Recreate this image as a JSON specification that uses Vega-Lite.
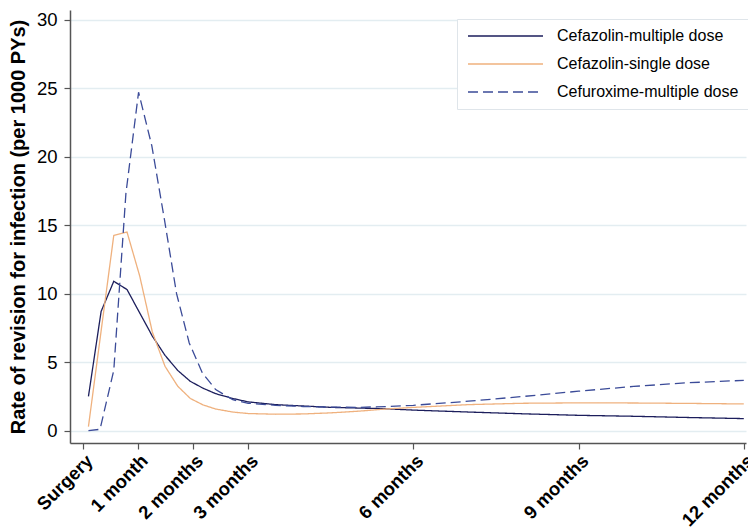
{
  "$schema": "https://vega.github.io/schema/vega-lite/v6.json",
  "width": 676,
  "height": 433,
  "autosize": {"type": "none"},
  "padding": {"left": 70, "top": 10, "right": 2, "bottom": 85},
  "background": "white",
  "config": {
    "view": {"stroke": null},
    "font": "Liberation Sans"
  },
  "data": {
    "values": [
      {"m": 0.10, "v": 2.5, "s": "Cefazolin-multiple dose"},
      {"m": 0.33, "v": 8.7, "s": "Cefazolin-multiple dose"},
      {"m": 0.56, "v": 10.9, "s": "Cefazolin-multiple dose"},
      {"m": 0.80, "v": 10.3, "s": "Cefazolin-multiple dose"},
      {"m": 1.03, "v": 8.6, "s": "Cefazolin-multiple dose"},
      {"m": 1.26, "v": 6.9, "s": "Cefazolin-multiple dose"},
      {"m": 1.49, "v": 5.5, "s": "Cefazolin-multiple dose"},
      {"m": 1.72, "v": 4.4, "s": "Cefazolin-multiple dose"},
      {"m": 1.95, "v": 3.6, "s": "Cefazolin-multiple dose"},
      {"m": 2.18, "v": 3.1, "s": "Cefazolin-multiple dose"},
      {"m": 2.41, "v": 2.7, "s": "Cefazolin-multiple dose"},
      {"m": 2.72, "v": 2.35, "s": "Cefazolin-multiple dose"},
      {"m": 3.0, "v": 2.1, "s": "Cefazolin-multiple dose"},
      {"m": 3.5, "v": 1.9, "s": "Cefazolin-multiple dose"},
      {"m": 4.0, "v": 1.8, "s": "Cefazolin-multiple dose"},
      {"m": 4.5, "v": 1.7, "s": "Cefazolin-multiple dose"},
      {"m": 5.0, "v": 1.65, "s": "Cefazolin-multiple dose"},
      {"m": 5.5, "v": 1.6, "s": "Cefazolin-multiple dose"},
      {"m": 6.0, "v": 1.5, "s": "Cefazolin-multiple dose"},
      {"m": 7.0, "v": 1.36, "s": "Cefazolin-multiple dose"},
      {"m": 8.0, "v": 1.23, "s": "Cefazolin-multiple dose"},
      {"m": 9.0, "v": 1.12, "s": "Cefazolin-multiple dose"},
      {"m": 10.0, "v": 1.05, "s": "Cefazolin-multiple dose"},
      {"m": 11.0, "v": 0.96, "s": "Cefazolin-multiple dose"},
      {"m": 12.0, "v": 0.88, "s": "Cefazolin-multiple dose"},

      {"m": 0.10, "v": 0.3, "s": "Cefazolin-single dose"},
      {"m": 0.56, "v": 14.25, "s": "Cefazolin-single dose"},
      {"m": 0.80, "v": 14.5, "s": "Cefazolin-single dose"},
      {"m": 1.03, "v": 11.3, "s": "Cefazolin-single dose"},
      {"m": 1.26, "v": 7.2, "s": "Cefazolin-single dose"},
      {"m": 1.49, "v": 4.7, "s": "Cefazolin-single dose"},
      {"m": 1.72, "v": 3.25, "s": "Cefazolin-single dose"},
      {"m": 1.95, "v": 2.35, "s": "Cefazolin-single dose"},
      {"m": 2.18, "v": 1.88, "s": "Cefazolin-single dose"},
      {"m": 2.41, "v": 1.58, "s": "Cefazolin-single dose"},
      {"m": 2.72, "v": 1.36, "s": "Cefazolin-single dose"},
      {"m": 3.0, "v": 1.25, "s": "Cefazolin-single dose"},
      {"m": 3.5, "v": 1.2, "s": "Cefazolin-single dose"},
      {"m": 4.0, "v": 1.22, "s": "Cefazolin-single dose"},
      {"m": 4.5, "v": 1.3, "s": "Cefazolin-single dose"},
      {"m": 5.0, "v": 1.42, "s": "Cefazolin-single dose"},
      {"m": 5.5, "v": 1.58, "s": "Cefazolin-single dose"},
      {"m": 6.0, "v": 1.7, "s": "Cefazolin-single dose"},
      {"m": 7.0, "v": 1.9, "s": "Cefazolin-single dose"},
      {"m": 8.0, "v": 2.0, "s": "Cefazolin-single dose"},
      {"m": 9.0, "v": 2.03, "s": "Cefazolin-single dose"},
      {"m": 10.0, "v": 2.02, "s": "Cefazolin-single dose"},
      {"m": 11.0, "v": 1.99, "s": "Cefazolin-single dose"},
      {"m": 12.0, "v": 1.95, "s": "Cefazolin-single dose"},

      {"m": 0.10, "v": 0.0, "s": "Cefuroxime-multiple dose"},
      {"m": 0.31, "v": 0.1, "s": "Cefuroxime-multiple dose"},
      {"m": 0.56, "v": 4.4, "s": "Cefuroxime-multiple dose"},
      {"m": 0.78, "v": 17.3, "s": "Cefuroxime-multiple dose"},
      {"m": 1.01, "v": 24.7, "s": "Cefuroxime-multiple dose"},
      {"m": 1.25, "v": 20.8, "s": "Cefuroxime-multiple dose"},
      {"m": 1.48, "v": 15.4, "s": "Cefuroxime-multiple dose"},
      {"m": 1.70, "v": 10.0, "s": "Cefuroxime-multiple dose"},
      {"m": 1.93, "v": 6.4, "s": "Cefuroxime-multiple dose"},
      {"m": 2.17, "v": 4.2, "s": "Cefuroxime-multiple dose"},
      {"m": 2.41, "v": 3.0, "s": "Cefuroxime-multiple dose"},
      {"m": 2.72, "v": 2.26, "s": "Cefuroxime-multiple dose"},
      {"m": 3.0, "v": 2.0, "s": "Cefuroxime-multiple dose"},
      {"m": 3.5, "v": 1.85, "s": "Cefuroxime-multiple dose"},
      {"m": 4.0, "v": 1.76, "s": "Cefuroxime-multiple dose"},
      {"m": 4.5, "v": 1.72, "s": "Cefuroxime-multiple dose"},
      {"m": 5.0, "v": 1.7, "s": "Cefuroxime-multiple dose"},
      {"m": 5.5, "v": 1.76, "s": "Cefuroxime-multiple dose"},
      {"m": 6.0, "v": 1.85, "s": "Cefuroxime-multiple dose"},
      {"m": 7.0, "v": 2.15, "s": "Cefuroxime-multiple dose"},
      {"m": 8.0, "v": 2.5, "s": "Cefuroxime-multiple dose"},
      {"m": 9.0, "v": 2.88, "s": "Cefuroxime-multiple dose"},
      {"m": 10.0, "v": 3.23, "s": "Cefuroxime-multiple dose"},
      {"m": 11.0, "v": 3.5, "s": "Cefuroxime-multiple dose"},
      {"m": 12.0, "v": 3.67, "s": "Cefuroxime-multiple dose"}
    ]
  },
  "mark": {"type": "line", "strokeWidth": 1.3, "clip": false},
  "encoding": {
    "x": {
      "field": "m",
      "type": "quantitative",
      "scale": {"domain": [-0.235, 12.04], "nice": false, "zero": false},
      "axis": {
        "title": null,
        "values": [0, 1, 2, 3, 6, 9, 12],
        "labelExpr": "datum.value == 0 ? 'Surgery' : datum.value == 1 ? '1 month' : datum.value + ' months'",
        "labelAngle": -45,
        "labelAlign": "right",
        "labelBaseline": "top",
        "labelFontWeight": "bold",
        "labelFontSize": 18.5,
        "labelColor": "black",
        "labelPadding": 2,
        "labelOverlap": false,
        "labelBound": false,
        "labelFlush": false,
        "grid": false,
        "domainColor": "#555555",
        "domainWidth": 1.5,
        "tickColor": "#555555",
        "tickSize": 6,
        "tickWidth": 1.2
      }
    },
    "y": {
      "field": "v",
      "type": "quantitative",
      "scale": {"domain": [-0.9, 30.7], "nice": false, "zero": false},
      "axis": {
        "title": "Rate of revision for infection (per 1000 PYs)",
        "titleFontSize": 20,
        "titleFontWeight": "bold",
        "titleColor": "black",
        "titlePadding": 8,
        "values": [0, 5, 10, 15, 20, 25, 30],
        "labelFontSize": 18.5,
        "labelColor": "black",
        "labelPadding": 7,
        "grid": true,
        "gridColor": "#e3edf1",
        "gridWidth": 1.5,
        "domainColor": "#555555",
        "domainWidth": 1.5,
        "tickColor": "#555555",
        "tickSize": 6,
        "tickWidth": 1.2
      }
    },
    "color": {
      "field": "s",
      "type": "nominal",
      "scale": {
        "domain": ["Cefazolin-multiple dose", "Cefazolin-single dose", "Cefuroxime-multiple dose"],
        "range": ["#1c1e5c", "#efb17e", "#3b4b98"]
      },
      "legend": {
        "title": null,
        "orient": "none",
        "legendX": 387,
        "legendY": 9,
        "symbolType": "M-1.2,0H13.8",
        "symbolSize": 100,
        "symbolStrokeWidth": 1.3,
        "labelFontSize": 16,
        "labelColor": "black",
        "labelLimit": 400,
        "labelOffset": 75,
        "rowPadding": 12,
        "padding": 9,
        "strokeColor": "#dfe5ea",
        "fillColor": "white",
        "cornerRadius": 0
      }
    },
    "strokeDash": {
      "field": "s",
      "type": "nominal",
      "scale": {
        "domain": ["Cefazolin-multiple dose", "Cefazolin-single dose", "Cefuroxime-multiple dose"],
        "range": [[1, 0], [1, 0], [10, 5]]
      },
      "legend": null
    }
  }
}
